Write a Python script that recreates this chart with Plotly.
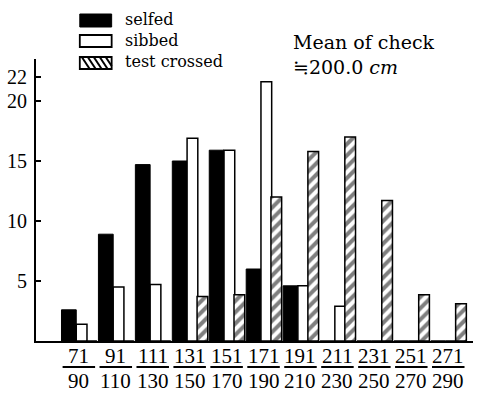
import plotly.graph_objects as go

# ---- data ----
lows = [71, 91, 111, 131, 151, 171, 191, 211, 231, 251, 271]
highs = [90, 110, 130, 150, 170, 190, 210, 230, 250, 270, 290]
categories = [f"{a}-{b}" for a, b in zip(lows, highs)]
selfed = [2.6, 8.9, 14.7, 15.0, 15.9, 6.0, 4.6, 0, 0, 0, 0]
sibbed = [1.4, 4.5, 4.7, 16.9, 15.9, 21.6, 4.6, 2.9, 0, 0, 0]
test_crossed = [0, 0, 0, 3.7, 3.85, 12.0, 15.8, 17.0, 11.7, 3.85, 3.1]
ytick_vals = [5, 10, 15, 20, 22]
series_names = ["selfed", "sibbed", "test crossed"]
note_line1 = "Mean of check"
note_line2 = "≒200.0 <i>cm</i>"

# ---- layout geometry (pixels) ----
WIDTH, HEIGHT = 480, 393
L, R, T, B = 34, 473, 59, 341
PW, PH = R - L, B - T


def px(x):
    return (x - L) / PW


def py(y):
    return (B - y) / PH


SERIF = "Liberation Serif, Times New Roman, Times, serif"
LSERIF = "DejaVu Serif, Liberation Serif, serif"

fig = go.Figure()
fig.add_trace(go.Bar(
    x=categories, y=selfed, name=series_names[0], offset=-0.47, width=0.40,
    marker=dict(color="black", line=dict(color="black", width=1)),
))
fig.add_trace(go.Bar(
    x=categories, y=sibbed, name=series_names[1], offset=-0.07, width=0.29,
    marker=dict(color="white", line=dict(color="black", width=1.5)),
))
fig.add_trace(go.Bar(
    x=categories, y=test_crossed, name=series_names[2], offset=0.20, width=0.29,
    marker=dict(color="white", line=dict(color="black", width=1.5),
                pattern=dict(shape="/", fgcolor="black", bgcolor="white",
                             size=8, solidity=0.5)),
))

annotations = []
shapes = []
# x category labels as fractions
for i, (a, b) in enumerate(zip(lows, highs)):
    annotations.append(dict(x=categories[i], y=py(356), xref="x", yref="paper",
                            text=str(a), showarrow=False, yanchor="middle",
                            font=dict(family=SERIF, size=21, color="black")))
    annotations.append(dict(x=categories[i], y=py(381), xref="x", yref="paper",
                            text=str(b), showarrow=False, yanchor="middle",
                            font=dict(family=SERIF, size=21, color="black")))
    shapes.append(dict(type="line", xref="x", yref="paper",
                       x0=i - 0.44, x1=i + 0.44, y0=py(367), y1=py(367),
                       line=dict(color="black", width=1.8)))

# legend (drawn manually)
bx0, bx1 = 78, 110
leg_rows = [(14, 27), (35, 47), (57, 69)]
shapes.append(dict(type="rect", xref="paper", yref="paper",
                   x0=px(bx0), x1=px(bx1), y0=py(leg_rows[0][1]), y1=py(leg_rows[0][0]),
                   fillcolor="black", line=dict(color="black", width=1)))
shapes.append(dict(type="rect", xref="paper", yref="paper",
                   x0=px(bx0), x1=px(bx1), y0=py(leg_rows[1][1]), y1=py(leg_rows[1][0]),
                   fillcolor="white", line=dict(color="black", width=1.8)))
shapes.append(dict(type="rect", xref="paper", yref="paper",
                   x0=px(bx0), x1=px(bx1), y0=py(leg_rows[2][1]), y1=py(leg_rows[2][0]),
                   fillcolor="white", line=dict(color="black", width=1.8)))
ht, hb = leg_rows[2]
for xs in range(80, 106, 6):
    xe = min(xs + 8, bx1)
    ye = ht + (xe - xs) * (hb - ht) / 8
    shapes.append(dict(type="line", xref="paper", yref="paper",
                       x0=px(xs), y0=py(ht), x1=px(xe), y1=py(ye),
                       line=dict(color="black", width=2)))
for name, (t, b) in zip(series_names, leg_rows):
    annotations.append(dict(x=px(121), y=py((t + b) / 2 - 1), xref="paper", yref="paper",
                            text=name, showarrow=False, xanchor="left", yanchor="middle",
                            font=dict(family=LSERIF, size=16, color="black")))

annotations.append(dict(x=px(290), y=py(42), xref="paper", yref="paper",
                        text=note_line1, showarrow=False, xanchor="left", yanchor="middle",
                        font=dict(family=LSERIF, size=19, color="black")))
annotations.append(dict(x=px(290), y=py(67), xref="paper", yref="paper",
                        text=note_line2, showarrow=False, xanchor="left", yanchor="middle",
                        font=dict(family=LSERIF, size=19, color="black")))

fig.update_layout(
    width=WIDTH, height=HEIGHT,
    margin=dict(l=L, r=WIDTH - R, t=T, b=HEIGHT - B, pad=0),
    paper_bgcolor="white", plot_bgcolor="white",
    barmode="overlay", showlegend=False,
    annotations=annotations, shapes=shapes,
    xaxis=dict(type="category", range=[-1.16, 10.67], showgrid=False, zeroline=False,
               showline=True, linecolor="black", linewidth=2,
               ticks="", showticklabels=False, fixedrange=True),
    yaxis=dict(range=[0, 23.5], showgrid=False, zeroline=False,
               showline=True, linecolor="black", linewidth=1.8,
               tickvals=ytick_vals, ticks="inside", ticklen=5, tickwidth=1.5,
               tickcolor="black", ticklabelstandoff=3,
               tickfont=dict(family=SERIF, size=20, color="black")),
)

fig.write_html("out.html")
